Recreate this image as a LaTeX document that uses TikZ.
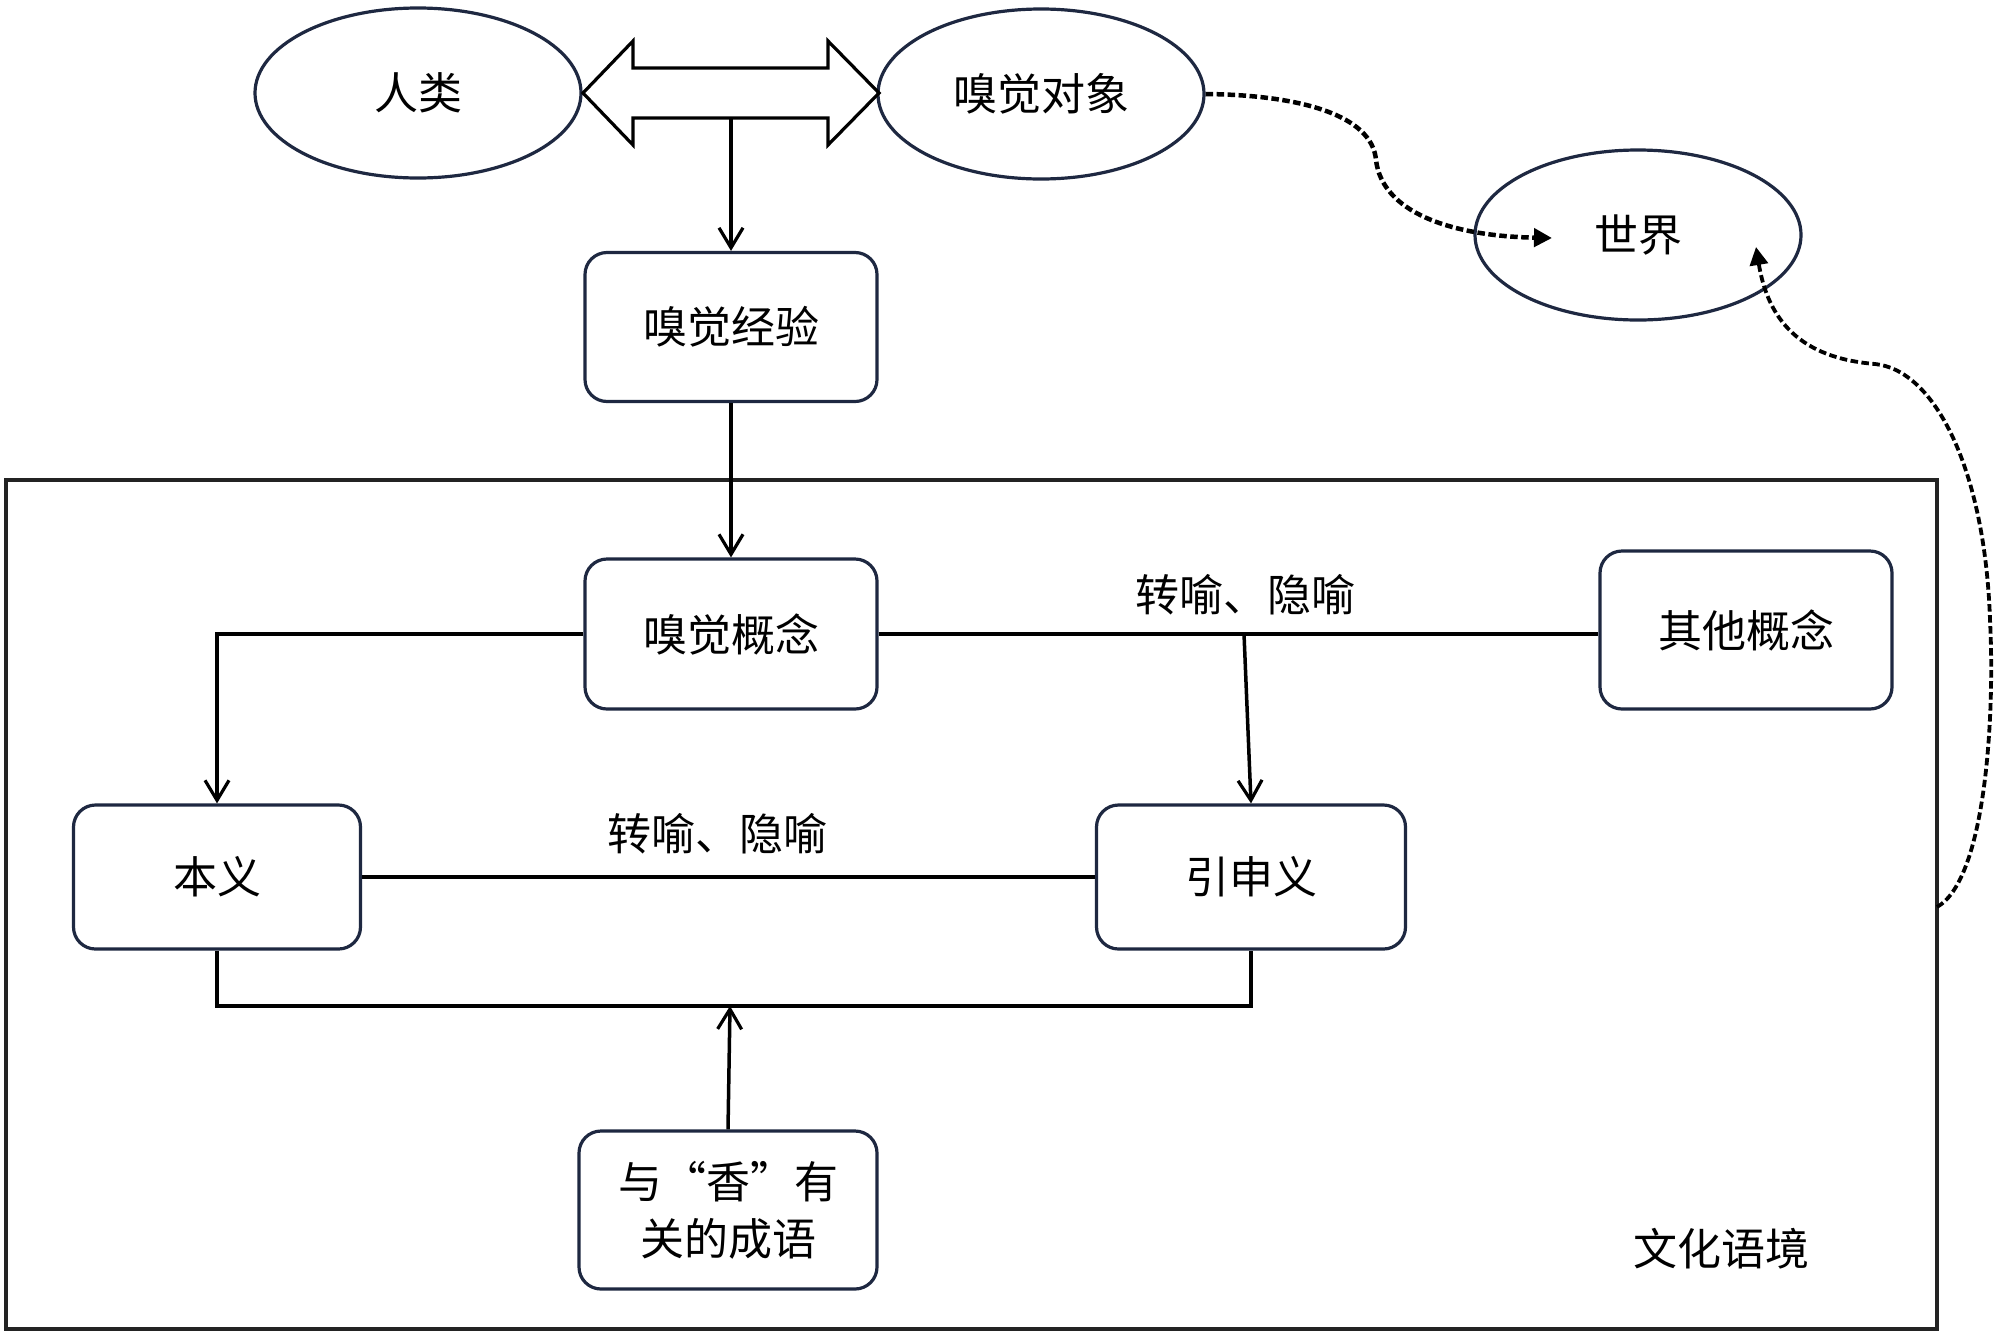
\documentclass[tikz,border=0pt]{standalone}
\usepackage{fontspec}
\newfontfamily\cjk{Noto Sans CJK SC}[RawFeature=+fwid]
\usetikzlibrary{arrows.meta,shapes.geometric}
\definecolor{navy}{RGB}{30,40,65}
\definecolor{framec}{RGB}{35,35,35}
\tikzset{
  txt/.style={font=\cjk\fontsize{22}{28.5}\selectfont},
  ell/.style={ellipse, draw=navy, line width=1.6pt, minimum width=163pt, minimum height=85pt, inner sep=0pt, txt},
  bx/.style={rectangle, rounded corners=11pt, draw=navy, line width=1.6pt, align=center, inner sep=0pt, txt},
  conn/.style={line width=1.75pt, draw=black, -{Straight Barb[length=10pt,width=12pt,line width=1.6pt]}},
  plainline/.style={line width=1.75pt, draw=black},
  dconn/.style={draw=black, dash pattern=on 3.75pt off 1.75pt, -{Triangle[length=9pt,width=9pt]}},
  lbl/.style={inner sep=0pt, txt}
}
\begin{document}
\begin{tikzpicture}[x=0.5pt,y=-0.5pt]
\useasboundingbox (0,0) rectangle (2000,1339);
\fill[white] (0,0) rectangle (2000,1339);
% ellipses
\node[ell] (human) at (418,93) {人类};
\node[ell] (obj) at (1041,94) {嗅觉对象};
\node[ell] (world) at (1638,235) {世界};
% double arrow
\draw[line width=1.6pt, line join=miter] (583,93) -- (633,41) -- (633,68) -- (828,68) -- (828,41) -- (879,93) -- (828,145) -- (828,118) -- (633,118) -- (633,145) -- cycle;
\coordinate (shaft) at (731,118);
% frame
\node[draw=framec, line width=2pt, minimum width=965.5pt, minimum height=424.5pt, inner sep=0pt] (ctx) at (971.5,904.5) {};
% boxes
\node[bx, minimum width=146pt, minimum height=74.5pt] (exp) at (731,327) {嗅觉经验};
\node[bx, minimum width=146pt, minimum height=75pt] (concept) at (731,634) {嗅觉概念};
\node[bx, minimum width=146pt, minimum height=79pt] (other) at (1746,630) {其他概念};
\node[bx, minimum width=143.5pt, minimum height=72pt] (lit) at (217,877) {本义};
\node[bx, minimum width=154.5pt, minimum height=72pt] (ext) at (1251,877) {引申义};
\node[bx, minimum width=149pt, minimum height=79pt] (idiom) at (728,1210) {与“香”有\\关的成语};
% labels
\node[lbl] (m1) at (1245,595) {转喻、隐喻};
\node[lbl] (m2) at (717,834) {转喻、隐喻};
\node[lbl] (cul) at (1721,1249) {文化语境};
% connectors
\draw[conn] (shaft) -- (exp.north);
\draw[conn] (exp.south) -- (concept.north);
\draw[conn] (concept.west) -| (lit.north);
\draw[plainline] (concept.east) -- (other.west |- concept.east);
\coordinate (split) at (1244,634);
\draw[conn] (split) -- (ext.north);
\draw[plainline] (lit.east) -- (ext.west);
\coordinate (jn) at (730,1006);
\draw[plainline] (lit.south) |- (jn) -| (ext.south);
\draw[conn] (idiom.north) -- (jn);
% dashed curves
\coordinate (w1) at (1552,238);
\draw[dconn, line width=2.25pt] (obj.east) .. controls (1300,95) and (1372,115) .. (1376,160) .. controls (1382,212) and (1450,236) .. (w1);
\coordinate (c2) at (1937,907);
\coordinate (w2) at (1756,247);
\draw[dconn, line width=1.9pt] (c2) .. controls (1985,880) and (1995,720) .. (1990,620) .. controls (1985,470) and (1935,370) .. (1875,364) .. controls (1800,358) and (1768,320) .. (w2);
\end{tikzpicture}
\end{document}
